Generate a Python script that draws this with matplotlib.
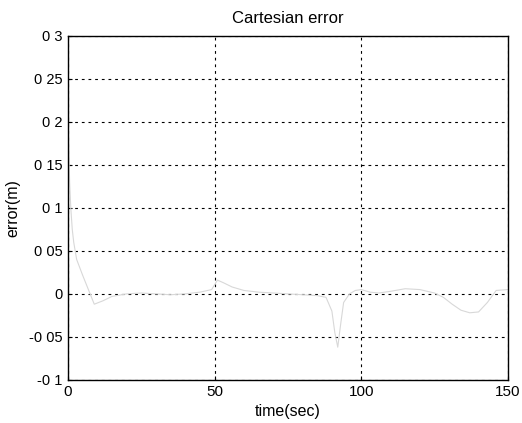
import numpy as np
import matplotlib.pyplot as plt

plt.rcParams['font.family'] = ['Liberation Sans', 'DejaVu Sans']

# values
time_sec = [0, 0.3, 0.6, 1.0, 1.5, 2.0, 3.0, 5.0, 7.0, 9.0, 12, 15, 20, 25, 30,
            35, 40, 45, 49, 51, 53, 56, 60, 65, 70, 75, 80, 85, 88, 90, 91,
            92, 93, 94, 96, 98, 100, 103, 106, 110, 115, 120, 125, 128, 131,
            134, 137, 140, 143, 146, 150]
error_m = [0.215, 0.17, 0.13, 0.1, 0.075, 0.06, 0.04, 0.022, 0.005, -0.012,
           -0.008, -0.003, 0.0, 0.001, 0.0, -0.001, 0.0, 0.002, 0.005, 0.016,
           0.013, 0.008, 0.004, 0.002, 0.001, 0.0, -0.001, -0.002, -0.004,
           -0.02, -0.045, -0.062, -0.035, -0.01, 0.0, 0.004, 0.005, 0.002,
           0.001, 0.003, 0.006, 0.005, 0.001, -0.004, -0.012, -0.019, -0.022,
           -0.021, -0.01, 0.004, 0.005]

x_ticks = [0, 50, 100, 150]
y_ticks = [-0.1, -0.05, 0, 0.05, 0.1, 0.15, 0.2, 0.25, 0.3]
y_tick_labels = ['-0 1', '-0 05', '0', '0 05', '0 1', '0 15', '0 2', '0 25', '0 3']

fig = plt.figure(figsize=(5.22, 4.23), dpi=100)
ax = fig.add_axes([0.130, 0.102, 0.843, 0.813])

ax.plot(time_sec, error_m, color='#d8d8d8', lw=0.8)

ax.set_xlim(0, 150)
ax.set_ylim(-0.1, 0.3)
ax.set_xticks(x_ticks)
ax.set_xticklabels([str(v) for v in x_ticks], fontsize=11)
ax.set_yticks(y_ticks)
ax.set_yticklabels(y_tick_labels, fontsize=10.5)
ax.tick_params(direction='in', length=3, width=0.8, colors='black', pad=4)
ax.grid(True, linestyle=(0, (2.5, 3.5)), color='black', lw=0.8)
for s in ax.spines.values():
    s.set_linewidth(1.0)

ax.set_title('Cartesian error', fontsize=12, pad=9)
ax.set_xlabel('time(sec)', fontsize=11.5, labelpad=3)
ax.set_ylabel('error(m)', fontsize=11.5, labelpad=6)

fig.savefig('out.png', dpi=100)
